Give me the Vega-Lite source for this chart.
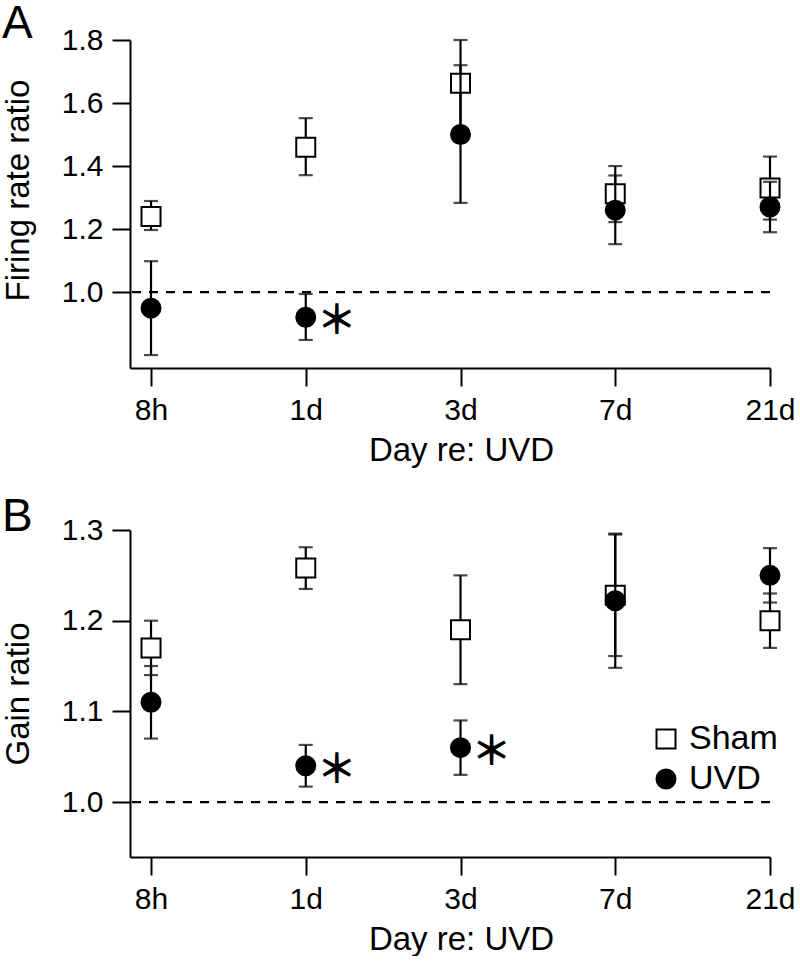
{
  "$schema": "https://vega.github.io/schema/vega-lite/v6.json",
  "padding": {"left": 2, "top": 1, "right": 0, "bottom": 0},
  "spacing": 27,
  "config": {
    "font": "Liberation Sans",
    "view": {"stroke": null},
    "axis": {
      "domainColor": "black", "domainWidth": 2, "tickColor": "black", "tickWidth": 2,
      "grid": false, "labelColor": "black", "titleColor": "black",
      "labelFont": "Liberation Sans", "titleFont": "Liberation Sans",
      "titleFontWeight": "normal", "labelFontSize": 30, "titleFontSize": 33,
      "tickSize": 18, "labelPadding": 9
    },
    "axisX": {"titlePadding": 9, "titleX": 331},
    "axisY": {"titlePadding": 26},
    "legend": {"orient": "none", "legendX": 519, "legendY": 192, "title": null, "labelFont": "Liberation Sans", "labelFontSize": 34, "labelColor": "black", "symbolStrokeColor": "black", "symbolStrokeWidth": 2, "symbolSize": 361, "labelOffset": 6, "rowPadding": 6, "padding": 0},
    "title": {"font": "Liberation Sans", "fontWeight": "normal", "color": "black", "anchor": "start", "frame": "group", "baseline": "alphabetic"}
  },
  "resolve": {"scale": {"shape": "independent", "fill": "independent", "stroke": "independent"}},
  "datasets": {
    "fr": [
      {"day": "8h", "group": "Sham", "mean": 1.24, "lo": 1.197, "hi": 1.289, "sig": ""},
      {"day": "1d", "group": "Sham", "mean": 1.46, "lo": 1.371, "hi": 1.552, "sig": ""},
      {"day": "3d", "group": "Sham", "mean": 1.663, "lo": 1.52, "hi": 1.8, "sig": ""},
      {"day": "7d", "group": "Sham", "mean": 1.312, "lo": 1.222, "hi": 1.4, "sig": ""},
      {"day": "21d", "group": "Sham", "mean": 1.33, "lo": 1.23, "hi": 1.43, "sig": ""},
      {"day": "8h", "group": "UVD", "mean": 0.949, "lo": 0.8, "hi": 1.098, "sig": ""},
      {"day": "1d", "group": "UVD", "mean": 0.92, "lo": 0.848, "hi": 0.994, "sig": "*"},
      {"day": "3d", "group": "UVD", "mean": 1.5, "lo": 1.283, "hi": 1.72, "sig": ""},
      {"day": "7d", "group": "UVD", "mean": 1.26, "lo": 1.152, "hi": 1.37, "sig": ""},
      {"day": "21d", "group": "UVD", "mean": 1.27, "lo": 1.19, "hi": 1.35, "sig": ""}
    ],
    "gain": [
      {"day": "8h", "group": "Sham", "mean": 1.17, "lo": 1.14, "hi": 1.2, "sig": ""},
      {"day": "1d", "group": "Sham", "mean": 1.258, "lo": 1.235, "hi": 1.281, "sig": ""},
      {"day": "3d", "group": "Sham", "mean": 1.19, "lo": 1.13, "hi": 1.25, "sig": ""},
      {"day": "7d", "group": "Sham", "mean": 1.228, "lo": 1.161, "hi": 1.295, "sig": ""},
      {"day": "21d", "group": "Sham", "mean": 1.2, "lo": 1.17, "hi": 1.23, "sig": ""},
      {"day": "8h", "group": "UVD", "mean": 1.11, "lo": 1.07, "hi": 1.15, "sig": ""},
      {"day": "1d", "group": "UVD", "mean": 1.04, "lo": 1.017, "hi": 1.063, "sig": "*"},
      {"day": "3d", "group": "UVD", "mean": 1.06, "lo": 1.03, "hi": 1.09, "sig": "*"},
      {"day": "7d", "group": "UVD", "mean": 1.222, "lo": 1.148, "hi": 1.296, "sig": ""},
      {"day": "21d", "group": "UVD", "mean": 1.25, "lo": 1.22, "hi": 1.28, "sig": ""}
    ]
  },
  "vconcat": [
    {
      "width": 640, "height": 328,
      "title": {"text": "A", "fontSize": 46, "dx": -128, "dy": 27, "offset": 4},
      "data": {"name": "fr"},
      "layer": [
        {
          "data": {"values": [{"ref": 1}]},
          "mark": {"type": "rule", "strokeDash": [9, 8], "strokeWidth": 2.2, "color": "black"},
          "encoding": {
            "y": {"field": "ref", "type": "quantitative", "scale": {"domain": [0.759, 1.8], "nice": false, "zero": false}, "axis": {"title": "Firing rate ratio", "values": [1.0, 1.2, 1.4, 1.6, 1.8], "format": ".1f", "titleY": 150}}
          }
        },
        {
          "transform": [{"filter": "datum.group === 'Sham'"}],
          "mark": {"type": "errorbar", "ticks": {"size": 14, "thickness": 2.2}, "rule": {"strokeWidth": 2.2}, "color": "black"},
          "encoding": {
            "x": {"field": "day", "type": "ordinal", "scale": {"type": "point", "domain": ["8h", "1d", "3d", "7d", "21d"], "padding": 0.0679, "align": 1}, "axis": {"title": "Day re: UVD", "labelAngle": 0}},
            "y": {"field": "lo", "type": "quantitative", "scale": {"domain": [0.759, 1.8], "nice": false, "zero": false}, "axis": {"title": "Firing rate ratio", "values": [1.0, 1.2, 1.4, 1.6, 1.8], "format": ".1f", "titleY": 150}},
            "y2": {"field": "hi"}
          }
        },
        {
          "transform": [{"filter": "datum.group === 'Sham'"}],
          "mark": {"type": "point", "filled": true, "size": 361, "strokeWidth": 2, "opacity": 1},
          "encoding": {
            "x": {"field": "day", "type": "ordinal", "scale": {"type": "point", "domain": ["8h", "1d", "3d", "7d", "21d"], "padding": 0.0679, "align": 1}, "axis": {"title": "Day re: UVD", "labelAngle": 0}},
            "y": {"field": "mean", "type": "quantitative", "scale": {"domain": [0.759, 1.8], "nice": false, "zero": false}, "axis": {"title": "Firing rate ratio", "values": [1.0, 1.2, 1.4, 1.6, 1.8], "format": ".1f", "titleY": 150}},
            "shape": {"field": "group", "type": "nominal", "scale": {"domain": ["Sham", "UVD"], "range": ["square", "circle"]}, "legend": null},
            "fill": {"field": "group", "type": "nominal", "scale": {"domain": ["Sham", "UVD"], "range": ["white", "black"]}, "legend": null},
            "stroke": {"field": "group", "type": "nominal", "scale": {"domain": ["Sham", "UVD"], "range": ["black", "black"]}, "legend": null}
          }
        },
        {
          "transform": [{"filter": "datum.group === 'UVD'"}],
          "mark": {"type": "errorbar", "ticks": {"size": 14, "thickness": 2.2}, "rule": {"strokeWidth": 2.2}, "color": "black"},
          "encoding": {
            "x": {"field": "day", "type": "ordinal", "scale": {"type": "point", "domain": ["8h", "1d", "3d", "7d", "21d"], "padding": 0.0679, "align": 1}, "axis": {"title": "Day re: UVD", "labelAngle": 0}},
            "y": {"field": "lo", "type": "quantitative", "scale": {"domain": [0.759, 1.8], "nice": false, "zero": false}, "axis": {"title": "Firing rate ratio", "values": [1.0, 1.2, 1.4, 1.6, 1.8], "format": ".1f", "titleY": 150}},
            "y2": {"field": "hi"}
          }
        },
        {
          "transform": [{"filter": "datum.group === 'UVD'"}],
          "mark": {"type": "point", "filled": true, "size": 361, "strokeWidth": 2, "opacity": 1},
          "encoding": {
            "x": {"field": "day", "type": "ordinal", "scale": {"type": "point", "domain": ["8h", "1d", "3d", "7d", "21d"], "padding": 0.0679, "align": 1}, "axis": {"title": "Day re: UVD", "labelAngle": 0}},
            "y": {"field": "mean", "type": "quantitative", "scale": {"domain": [0.759, 1.8], "nice": false, "zero": false}, "axis": {"title": "Firing rate ratio", "values": [1.0, 1.2, 1.4, 1.6, 1.8], "format": ".1f", "titleY": 150}},
            "shape": {"field": "group", "type": "nominal", "scale": {"domain": ["Sham", "UVD"], "range": ["square", "circle"]}, "legend": null},
            "fill": {"field": "group", "type": "nominal", "scale": {"domain": ["Sham", "UVD"], "range": ["white", "black"]}, "legend": null},
            "stroke": {"field": "group", "type": "nominal", "scale": {"domain": ["Sham", "UVD"], "range": ["black", "black"]}, "legend": null}
          }
        },
        {
          "transform": [{"filter": "datum.sig === '*'"}],
          "mark": {"type": "text", "text": "＊", "font": "Noto Sans CJK JP", "fontWeight": "bold", "fontSize": 40, "dx": 31, "dy": 5, "baseline": "middle", "align": "center", "color": "black"},
          "encoding": {
            "x": {"field": "day", "type": "ordinal", "scale": {"type": "point", "domain": ["8h", "1d", "3d", "7d", "21d"], "padding": 0.0679, "align": 1}, "axis": {"title": "Day re: UVD", "labelAngle": 0}},
            "y": {"field": "mean", "type": "quantitative", "scale": {"domain": [0.759, 1.8], "nice": false, "zero": false}, "axis": {"title": "Firing rate ratio", "values": [1.0, 1.2, 1.4, 1.6, 1.8], "format": ".1f", "titleY": 150}}
          }
        }
      ]
    },
    {
      "width": 640, "height": 327,
      "title": {"text": "B", "fontSize": 46, "dx": -128, "dy": 28, "offset": 2},
      "data": {"name": "gain"},
      "layer": [
        {
          "data": {"values": [{"ref": 1}]},
          "mark": {"type": "rule", "strokeDash": [9, 8], "strokeWidth": 2.2, "color": "black"},
          "encoding": {
            "y": {"field": "ref", "type": "quantitative", "scale": {"domain": [0.9394, 1.3], "nice": false, "zero": false}, "axis": {"title": "Gain ratio", "values": [1.0, 1.1, 1.2, 1.3], "format": ".1f"}}
          }
        },
        {
          "transform": [{"filter": "datum.group === 'Sham'"}],
          "mark": {"type": "errorbar", "ticks": {"size": 14, "thickness": 2.2}, "rule": {"strokeWidth": 2.2}, "color": "black"},
          "encoding": {
            "x": {"field": "day", "type": "ordinal", "scale": {"type": "point", "domain": ["8h", "1d", "3d", "7d", "21d"], "padding": 0.0679, "align": 1}, "axis": {"title": "Day re: UVD", "labelAngle": 0}},
            "y": {"field": "lo", "type": "quantitative", "scale": {"domain": [0.9394, 1.3], "nice": false, "zero": false}, "axis": {"title": "Gain ratio", "values": [1.0, 1.1, 1.2, 1.3], "format": ".1f"}},
            "y2": {"field": "hi"}
          }
        },
        {
          "transform": [{"filter": "datum.group === 'Sham'"}],
          "mark": {"type": "point", "filled": true, "size": 361, "strokeWidth": 2, "opacity": 1},
          "encoding": {
            "x": {"field": "day", "type": "ordinal", "scale": {"type": "point", "domain": ["8h", "1d", "3d", "7d", "21d"], "padding": 0.0679, "align": 1}, "axis": {"title": "Day re: UVD", "labelAngle": 0}},
            "y": {"field": "mean", "type": "quantitative", "scale": {"domain": [0.9394, 1.3], "nice": false, "zero": false}, "axis": {"title": "Gain ratio", "values": [1.0, 1.1, 1.2, 1.3], "format": ".1f"}},
            "shape": {"field": "group", "type": "nominal", "scale": {"domain": ["Sham", "UVD"], "range": ["square", "circle"]}},
            "fill": {"field": "group", "type": "nominal", "scale": {"domain": ["Sham", "UVD"], "range": ["white", "black"]}},
            "stroke": {"field": "group", "type": "nominal", "scale": {"domain": ["Sham", "UVD"], "range": ["black", "black"]}}
          }
        },
        {
          "transform": [{"filter": "datum.group === 'UVD'"}],
          "mark": {"type": "errorbar", "ticks": {"size": 14, "thickness": 2.2}, "rule": {"strokeWidth": 2.2}, "color": "black"},
          "encoding": {
            "x": {"field": "day", "type": "ordinal", "scale": {"type": "point", "domain": ["8h", "1d", "3d", "7d", "21d"], "padding": 0.0679, "align": 1}, "axis": {"title": "Day re: UVD", "labelAngle": 0}},
            "y": {"field": "lo", "type": "quantitative", "scale": {"domain": [0.9394, 1.3], "nice": false, "zero": false}, "axis": {"title": "Gain ratio", "values": [1.0, 1.1, 1.2, 1.3], "format": ".1f"}},
            "y2": {"field": "hi"}
          }
        },
        {
          "transform": [{"filter": "datum.group === 'UVD'"}],
          "mark": {"type": "point", "filled": true, "size": 361, "strokeWidth": 2, "opacity": 1},
          "encoding": {
            "x": {"field": "day", "type": "ordinal", "scale": {"type": "point", "domain": ["8h", "1d", "3d", "7d", "21d"], "padding": 0.0679, "align": 1}, "axis": {"title": "Day re: UVD", "labelAngle": 0}},
            "y": {"field": "mean", "type": "quantitative", "scale": {"domain": [0.9394, 1.3], "nice": false, "zero": false}, "axis": {"title": "Gain ratio", "values": [1.0, 1.1, 1.2, 1.3], "format": ".1f"}},
            "shape": {"field": "group", "type": "nominal", "scale": {"domain": ["Sham", "UVD"], "range": ["square", "circle"]}},
            "fill": {"field": "group", "type": "nominal", "scale": {"domain": ["Sham", "UVD"], "range": ["white", "black"]}},
            "stroke": {"field": "group", "type": "nominal", "scale": {"domain": ["Sham", "UVD"], "range": ["black", "black"]}}
          }
        },
        {
          "transform": [{"filter": "datum.sig === '*'"}],
          "mark": {"type": "text", "text": "＊", "font": "Noto Sans CJK JP", "fontWeight": "bold", "fontSize": 40, "dx": 31, "dy": 5, "baseline": "middle", "align": "center", "color": "black"},
          "encoding": {
            "x": {"field": "day", "type": "ordinal", "scale": {"type": "point", "domain": ["8h", "1d", "3d", "7d", "21d"], "padding": 0.0679, "align": 1}, "axis": {"title": "Day re: UVD", "labelAngle": 0}},
            "y": {"field": "mean", "type": "quantitative", "scale": {"domain": [0.9394, 1.3], "nice": false, "zero": false}, "axis": {"title": "Gain ratio", "values": [1.0, 1.1, 1.2, 1.3], "format": ".1f"}}
          }
        }
      ]
    }
  ]
}
